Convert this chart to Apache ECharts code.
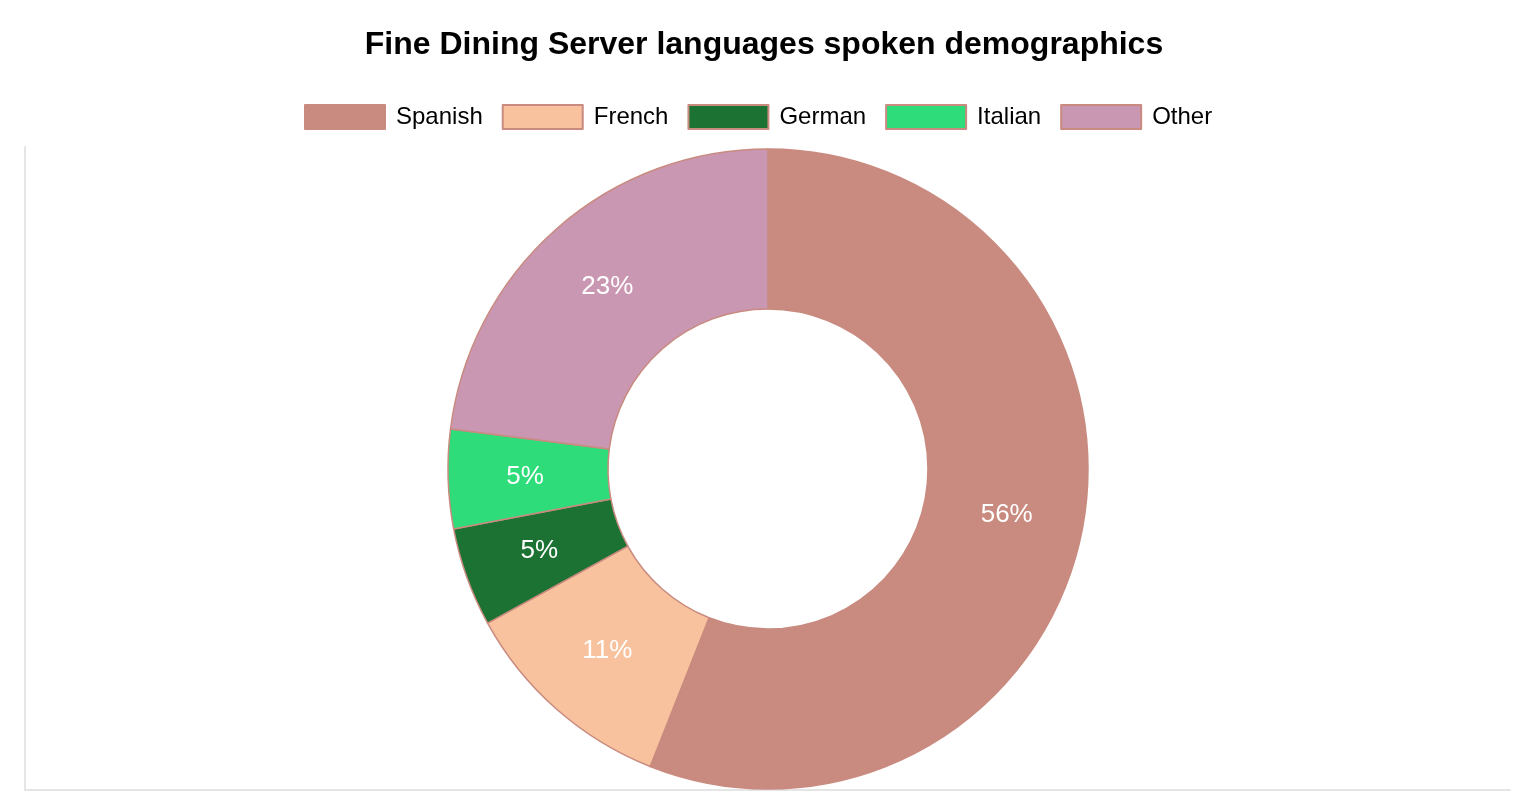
<!DOCTYPE html>
<html>
<head>
<meta charset="utf-8">
<script src="https://cdn.jsdelivr.net/npm/echarts@6/dist/echarts.min.js"></script>
<style>
html,body{margin:0;padding:0;background:#fff;}
#chart{width:1528px;height:808px;}
</style>
</head>
<body>
<div id="chart"></div>
<script>
const titleText = 'Fine Dining Server languages spoken demographics';
const categories = ['Spanish', 'French', 'German', 'Italian', 'Other'];
const values = [56, 11, 5, 5, 23];
const colors = ['#c98a7f', '#f7c29d', '#1c7233', '#2edd7a', '#c997b1'];
const borderColor = '#c98a7f';

const chart = echarts.init(document.getElementById('chart'));
const font = '"Liberation Sans", Arial, Helvetica, sans-serif';

chart.setOption({
  animation: false,
  backgroundColor: '#ffffff',
  title: {
    text: titleText,
    left: 'center',
    top: 24,
    textStyle: { fontFamily: font, fontSize: 32, fontWeight: 'bold', color: '#000' }
  },
  legend: {
    top: 104,
    left: 304,
    padding: 0,
    itemWidth: 80,
    itemHeight: 24,
    itemGap: 19,
    icon: 'rect',
    data: categories,
    itemStyle: { borderColor: borderColor, borderWidth: 2 },
    textStyle: { fontFamily: font, fontSize: 24, color: '#000', padding: [0, 0, 0, 6] }
  },
  grid: { left: 25, right: 18, top: 147, bottom: 18, containLabel: false },
  xAxis: {
    type: 'value', min: 0, max: 1,
    axisLine: { show: true, onZero: false, lineStyle: { color: '#e5e5e5', width: 2 } },
    axisTick: { show: false }, axisLabel: { show: false }, splitLine: { show: false }
  },
  yAxis: {
    type: 'value', min: 0, max: 1,
    axisLine: { show: true, onZero: false, lineStyle: { color: '#e5e5e5', width: 2 } },
    axisTick: { show: false }, axisLabel: { show: false }, splitLine: { show: false }
  },
  series: [{
    type: 'pie',
    center: [768, 469],
    radius: [160, 320],
    startAngle: 90,
    clockwise: true,
    avoidLabelOverlap: false,
    data: categories.map((c, i) => ({
      name: c,
      value: values[i],
      itemStyle: { color: colors[i] }
    })),
    itemStyle: { borderColor: borderColor, borderWidth: 1.5 },
    label: {
      show: true,
      position: 'inside',
      formatter: p => p.value + '%',
      color: '#fff',
      fontFamily: font,
      fontSize: 26
    },
    labelLine: { show: false },
    emphasis: { disabled: true }
  }]
});
</script>
</body>
</html>
